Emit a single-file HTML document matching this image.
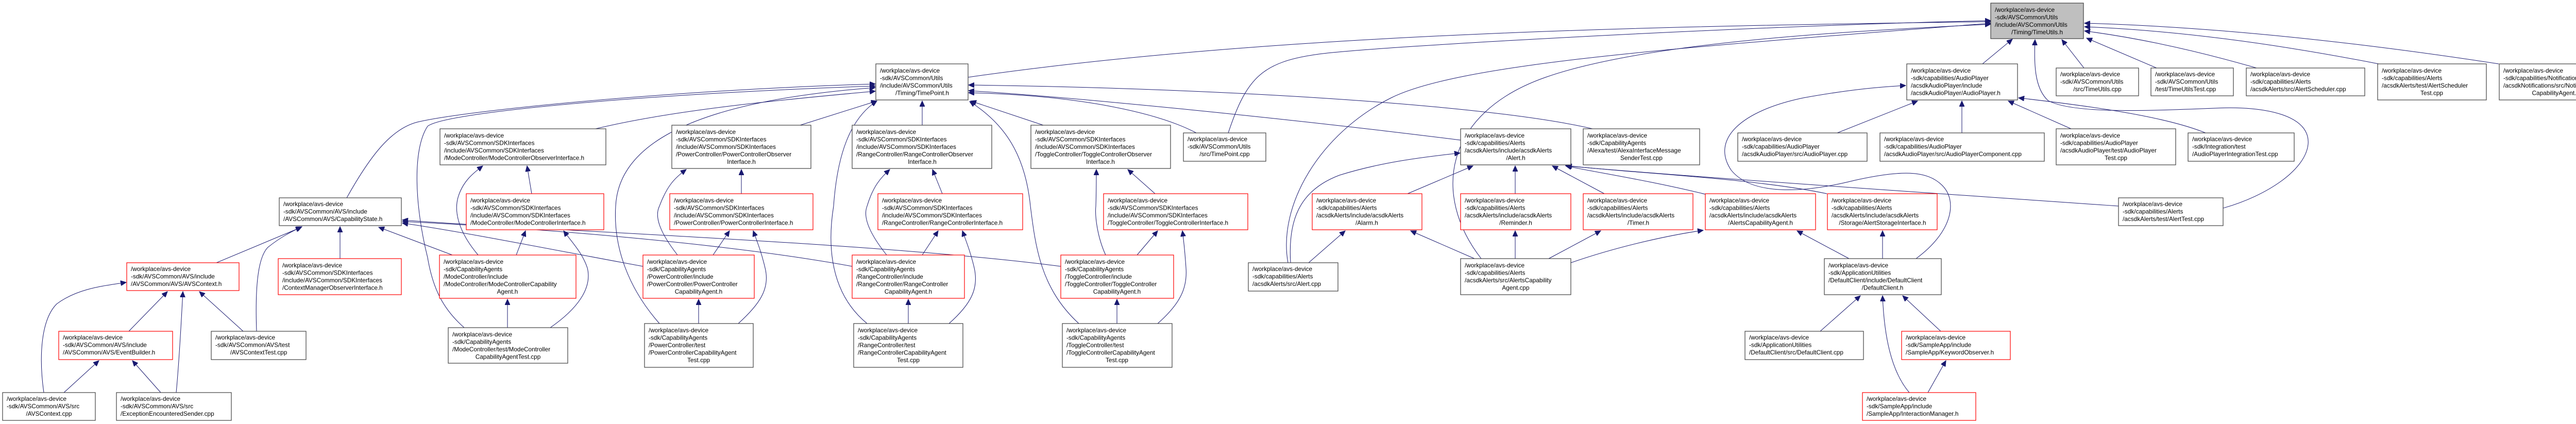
<!DOCTYPE html>
<html><head><meta charset="utf-8"><style>
html,body{margin:0;padding:0;background:#fff;}
svg{display:block;}
text{font-family:"Liberation Sans",sans-serif;font-size:11.8px;fill:#000;}
.b{fill:#fff;stroke:#404040;stroke-width:1.2;}
.r{fill:#fff;stroke:#ff0000;stroke-width:1.2;}
.g{fill:#bfbfbf;stroke:#404040;stroke-width:1.2;}
.e{fill:none;stroke:#191970;stroke-width:1;marker-end:url(#a);}
.m{text-anchor:middle;}
</style></head><body>
<svg width="5089" height="823" viewBox="0 0 5089 823" xmlns="http://www.w3.org/2000/svg">
<defs><marker id="a" markerUnits="userSpaceOnUse" markerWidth="12" markerHeight="10" refX="11" refY="5" orient="auto"><path d="M0,0 L11,5 L0,10 z" fill="#191970" stroke="#191970"/></marker></defs>

<!-- edges -->
<g>
<path class="e" d="M1879,150 C2500,60 3300,50 3864,42"/>
<path class="e" d="M3848,124 L3906,76"/>
<path class="e" d="M4045,132 L4002,77"/>
<path class="e" d="M4186,132 L4050,74"/>
<path class="e" d="M4380,132 Q4200,80 4046,60"/>
<path class="e" d="M4617,124 Q4300,62 4046,52"/>
<path class="e" d="M4850,124 Q4400,55 4046,45"/>
<path class="e" d="M2384,258 C2420,150 2450,120 2560,105 S3400,50 3864,40"/>
<path class="e" d="M2500,510 C2480,400 2560,260 2700,190 S3300,90 3864,45"/>
<path class="e" d="M2875,502 C2780,380 2800,220 3000,150 S3600,60 3864,47"/>
<path class="e" d="M4315,404 C4400,380 4475,330 4480,280 C4485,225 4400,205 4300,210 C4150,216 4020,220 3975,195 C3948,170 3948,120 3950,77"/>
<path class="e" d="M3091,250 C2900,205 2400,172 1880,165"/>
<path class="e" d="M2835,272 C2500,230 2100,190 1880,176"/>
<path class="e" d="M4112,400 C3800,378 3300,345 3040,322"/>
<path class="e" d="M2322,258 C2250,220 2100,185 1880,180"/>
<path class="e" d="M2094,628 C2020,560 2010,480 2000,400 C1990,300 1950,240 1882,197"/>
<path class="e" d="M1683,628 C1600,560 1610,450 1618,400 C1625,300 1650,230 1702,196"/>
<path class="e" d="M1280,628 C1220,560 1190,480 1195,400 C1200,300 1300,200 1699,170"/>
<path class="e" d="M1553,243 L1702,196"/>
<path class="e" d="M1790,243 L1790,196"/>
<path class="e" d="M2025,243 L1884,196"/>
<path class="e" d="M1156,250 C1300,215 1500,195 1699,177"/>
<path class="e" d="M673,384 C720,300 760,250 810,237 C900,215 1300,175 1699,163"/>
<path class="e" d="M901,636 C860,600 840,560 830,500 C805,400 800,290 830,245 C870,215 1300,180 1699,167"/>
<path class="e" d="M420,510 L585,441"/>
<path class="e" d="M498,643 C495,560 500,500 520,480 C545,460 565,450 586,440"/>
<path class="e" d="M660,502 L660,440"/>
<path class="e" d="M878,495 L735,441"/>
<path class="e" d="M1248,517 C1100,490 900,450 781,433"/>
<path class="e" d="M1654,517 C1400,470 1000,440 781,430"/>
<path class="e" d="M2059,517 C1700,470 1000,445 781,427"/>
<path class="e" d="M250,643 L325,566"/>
<path class="e" d="M472,643 L387,566"/>
<path class="e" d="M85,762 C75,690 80,620 110,590 C150,560 200,555 245,548"/>
<path class="e" d="M342,762 C348,700 352,620 355,566"/>
<path class="e" d="M124,762 L192,700"/>
<path class="e" d="M312,762 L257,700"/>
<path class="e" d="M1032,376 L1023,322"/>
<path class="e" d="M928,495 C890,450 880,410 890,380 C900,350 920,335 937,322"/>
<path class="e" d="M1002,495 L1020,448"/>
<path class="e" d="M1068,636 C1120,600 1150,560 1140,520 C1130,490 1110,470 1094,448"/>
<path class="e" d="M985,636 L985,581"/>
<path class="e" d="M1439,376 L1439,329"/>
<path class="e" d="M1315,495 C1280,450 1270,420 1280,400 C1295,360 1310,345 1332,329"/>
<path class="e" d="M1384,495 L1416,448"/>
<path class="e" d="M1433,628 C1475,590 1495,560 1485,520 C1478,490 1470,470 1462,448"/>
<path class="e" d="M1356,628 L1356,581"/>
<path class="e" d="M1829,376 L1810,329"/>
<path class="e" d="M1721,495 C1685,450 1675,420 1683,400 C1695,360 1710,345 1727,329"/>
<path class="e" d="M1790,495 L1821,448"/>
<path class="e" d="M1842,628 C1885,590 1900,560 1891,520 C1884,490 1876,470 1868,448"/>
<path class="e" d="M1763,628 L1763,581"/>
<path class="e" d="M2242,376 L2189,329"/>
<path class="e" d="M2146,495 C2130,460 2125,420 2127,400 C2128,370 2128,350 2128,329"/>
<path class="e" d="M2207,495 L2247,448"/>
<path class="e" d="M2247,628 C2290,590 2305,560 2302,520 C2300,490 2298,470 2295,448"/>
<path class="e" d="M2168,628 L2168,581"/>
<path class="e" d="M2732,376 L2859,322"/>
<path class="e" d="M2505,510 C2500,430 2520,370 2600,340 C2680,315 2760,305 2834,297"/>
<path class="e" d="M2941,376 L2941,322"/>
<path class="e" d="M2540,510 L2611,448"/>
<path class="e" d="M2862,502 L2738,448"/>
<path class="e" d="M2941,502 L2941,448"/>
<path class="e" d="M3114,376 L3013,322"/>
<path class="e" d="M3310,377 C3200,350 3100,335 3039,322"/>
<path class="e" d="M3546,376 C3400,345 3150,335 3039,321"/>
<path class="e" d="M3006,502 L3107,448"/>
<path class="e" d="M3049,510 C3150,475 3250,455 3306,447"/>
<path class="e" d="M3589,502 L3488,448"/>
<path class="e" d="M3654,502 L3654,448"/>
<path class="e" d="M3719,502 C3790,450 3800,390 3770,360 C3740,330 3690,330 3600,350 C3500,375 3400,380 3360,330 C3320,270 3380,215 3500,190 C3600,172 3660,168 3699,166"/>
<path class="e" d="M3566,258 L3722,196"/>
<path class="e" d="M3808,258 L3808,196"/>
<path class="e" d="M4020,250 L3898,196"/>
<path class="e" d="M4281,258 C4200,225 4050,205 3918,190"/>
<path class="e" d="M3533,643 L3611,574"/>
<path class="e" d="M3767,643 L3693,574"/>
<path class="e" d="M3706,762 C3670,720 3657,650 3654,574"/>
<path class="e" d="M3742,762 L3777,700"/>
</g>

<!-- nodes -->
<rect class="g" x="3864" y="6" width="180" height="69"/>
<text><tspan x="3872" y="23">/workplace/avs-device</tspan><tspan x="3872" y="37.5">-sdk/AVSCommon/Utils</tspan><tspan x="3872" y="52">/include/AVSCommon/Utils</tspan><tspan class="m" x="3954" y="66.5">/Timing/TimeUtils.h</tspan></text>

<rect class="b" x="1700" y="124" width="179" height="70"/>
<text><tspan x="1708" y="141">/workplace/avs-device</tspan><tspan x="1708" y="155.5">-sdk/AVSCommon/Utils</tspan><tspan x="1708" y="170">/include/AVSCommon/Utils</tspan><tspan class="m" x="1790" y="184.5">/Timing/TimePoint.h</tspan></text>

<rect class="b" x="542" y="384" width="237" height="54"/>
<text><tspan x="550" y="400">/workplace/avs-device</tspan><tspan x="550" y="414.5">-sdk/AVSCommon/AVS/include</tspan><tspan x="550" y="429">/AVSCommon/AVS/CapabilityState.h</tspan></text>

<rect class="r" x="246" y="510" width="218" height="54"/>
<text><tspan x="254" y="526">/workplace/avs-device</tspan><tspan x="254" y="540.5">-sdk/AVSCommon/AVS/include</tspan><tspan x="254" y="555">/AVSCommon/AVS/AVSContext.h</tspan></text>

<rect class="r" x="540" y="502" width="239" height="70"/>
<text><tspan x="548" y="519">/workplace/avs-device</tspan><tspan x="548" y="533.5">-sdk/AVSCommon/SDKInterfaces</tspan><tspan x="548" y="548">/include/AVSCommon/SDKInterfaces</tspan><tspan x="548" y="562.5">/ContextManagerObserverInterface.h</tspan></text>

<rect class="r" x="114" y="643" width="221" height="55"/>
<text><tspan x="122" y="659">/workplace/avs-device</tspan><tspan x="122" y="673.5">-sdk/AVSCommon/AVS/include</tspan><tspan x="122" y="688">/AVSCommon/AVS/EventBuilder.h</tspan></text>

<rect class="b" x="410" y="643" width="184" height="55"/>
<text><tspan x="418" y="659">/workplace/avs-device</tspan><tspan x="418" y="673.5">-sdk/AVSCommon/AVS/test</tspan><tspan class="m" x="502" y="688">/AVSContextTest.cpp</tspan></text>

<rect class="b" x="5" y="762" width="180" height="54"/>
<text><tspan x="13" y="778">/workplace/avs-device</tspan><tspan x="13" y="792.5">-sdk/AVSCommon/AVS/src</tspan><tspan class="m" x="95" y="807">/AVSContext.cpp</tspan></text>

<rect class="b" x="226" y="762" width="223" height="54"/>
<text><tspan x="234" y="778">/workplace/avs-device</tspan><tspan x="234" y="792.5">-sdk/AVSCommon/AVS/src</tspan><tspan x="234" y="807">/ExceptionEncounteredSender.cpp</tspan></text>

<rect class="b" x="854" y="250" width="322" height="70"/>
<text><tspan x="862" y="267">/workplace/avs-device</tspan><tspan x="862" y="281.5">-sdk/AVSCommon/SDKInterfaces</tspan><tspan x="862" y="296">/include/AVSCommon/SDKInterfaces</tspan><tspan x="862" y="310.5">/ModeController/ModeControllerObserverInterface.h</tspan></text>

<rect class="r" x="905" y="376" width="267" height="70"/>
<text><tspan x="913" y="393">/workplace/avs-device</tspan><tspan x="913" y="407.5">-sdk/AVSCommon/SDKInterfaces</tspan><tspan x="913" y="422">/include/AVSCommon/SDKInterfaces</tspan><tspan x="913" y="436.5">/ModeController/ModeControllerInterface.h</tspan></text>

<rect class="r" x="853" y="495" width="265" height="84"/>
<text><tspan x="861" y="512">/workplace/avs-device</tspan><tspan x="861" y="526.5">-sdk/CapabilityAgents</tspan><tspan x="861" y="541">/ModeController/include</tspan><tspan x="861" y="555.5">/ModeController/ModeControllerCapability</tspan><tspan class="m" x="985" y="570">Agent.h</tspan></text>

<rect class="b" x="870" y="636" width="232" height="69"/>
<text><tspan x="878" y="653">/workplace/avs-device</tspan><tspan x="878" y="667.5">-sdk/CapabilityAgents</tspan><tspan x="878" y="682">/ModeController/test/ModeController</tspan><tspan class="m" x="986" y="696.5">CapabilityAgentTest.cpp</tspan></text>

<rect class="b" x="1304" y="243" width="270" height="84"/>
<text><tspan x="1312" y="260">/workplace/avs-device</tspan><tspan x="1312" y="274.5">-sdk/AVSCommon/SDKInterfaces</tspan><tspan x="1312" y="289">/include/AVSCommon/SDKInterfaces</tspan><tspan x="1312" y="303.5">/PowerController/PowerControllerObserver</tspan><tspan class="m" x="1439" y="318">Interface.h</tspan></text>

<rect class="b" x="1654" y="243" width="271" height="84"/>
<text><tspan x="1662" y="260">/workplace/avs-device</tspan><tspan x="1662" y="274.5">-sdk/AVSCommon/SDKInterfaces</tspan><tspan x="1662" y="289">/include/AVSCommon/SDKInterfaces</tspan><tspan x="1662" y="303.5">/RangeController/RangeControllerObserver</tspan><tspan class="m" x="1790" y="318">Interface.h</tspan></text>

<rect class="r" x="1300" y="376" width="278" height="70"/>
<text><tspan x="1308" y="393">/workplace/avs-device</tspan><tspan x="1308" y="407.5">-sdk/AVSCommon/SDKInterfaces</tspan><tspan x="1308" y="422">/include/AVSCommon/SDKInterfaces</tspan><tspan x="1308" y="436.5">/PowerController/PowerControllerInterface.h</tspan></text>

<rect class="r" x="1704" y="376" width="281" height="70"/>
<text><tspan x="1712" y="393">/workplace/avs-device</tspan><tspan x="1712" y="407.5">-sdk/AVSCommon/SDKInterfaces</tspan><tspan x="1712" y="422">/include/AVSCommon/SDKInterfaces</tspan><tspan x="1712" y="436.5">/RangeController/RangeControllerInterface.h</tspan></text>

<rect class="r" x="1248" y="495" width="216" height="84"/>
<text><tspan x="1256" y="512">/workplace/avs-device</tspan><tspan x="1256" y="526.5">-sdk/CapabilityAgents</tspan><tspan x="1256" y="541">/PowerController/include</tspan><tspan x="1256" y="555.5">/PowerController/PowerController</tspan><tspan class="m" x="1356" y="570">CapabilityAgent.h</tspan></text>

<rect class="r" x="1654" y="495" width="218" height="84"/>
<text><tspan x="1662" y="512">/workplace/avs-device</tspan><tspan x="1662" y="526.5">-sdk/CapabilityAgents</tspan><tspan x="1662" y="541">/RangeController/include</tspan><tspan x="1662" y="555.5">/RangeController/RangeController</tspan><tspan class="m" x="1763" y="570">CapabilityAgent.h</tspan></text>

<rect class="b" x="1251" y="628" width="211" height="85"/>
<text><tspan x="1259" y="645">/workplace/avs-device</tspan><tspan x="1259" y="659.5">-sdk/CapabilityAgents</tspan><tspan x="1259" y="674">/PowerController/test</tspan><tspan x="1259" y="688.5">/PowerControllerCapabilityAgent</tspan><tspan class="m" x="1356" y="703">Test.cpp</tspan></text>

<rect class="b" x="1657" y="628" width="212" height="85"/>
<text><tspan x="1665" y="645">/workplace/avs-device</tspan><tspan x="1665" y="659.5">-sdk/CapabilityAgents</tspan><tspan x="1665" y="674">/RangeController/test</tspan><tspan x="1665" y="688.5">/RangeControllerCapabilityAgent</tspan><tspan class="m" x="1763" y="703">Test.cpp</tspan></text>

<rect class="b" x="2001" y="243" width="271" height="84"/>
<text><tspan x="2009" y="260">/workplace/avs-device</tspan><tspan x="2009" y="274.5">-sdk/AVSCommon/SDKInterfaces</tspan><tspan x="2009" y="289">/include/AVSCommon/SDKInterfaces</tspan><tspan x="2009" y="303.5">/ToggleController/ToggleControllerObserver</tspan><tspan class="m" x="2136" y="318">Interface.h</tspan></text>

<rect class="b" x="2297" y="258" width="160" height="55"/>
<text><tspan x="2305" y="274">/workplace/avs-device</tspan><tspan x="2305" y="288.5">-sdk/AVSCommon/Utils</tspan><tspan class="m" x="2377" y="303">/src/TimePoint.cpp</tspan></text>

<rect class="r" x="2142" y="376" width="280" height="70"/>
<text><tspan x="2150" y="393">/workplace/avs-device</tspan><tspan x="2150" y="407.5">-sdk/AVSCommon/SDKInterfaces</tspan><tspan x="2150" y="422">/include/AVSCommon/SDKInterfaces</tspan><tspan x="2150" y="436.5">/ToggleController/ToggleControllerInterface.h</tspan></text>

<rect class="r" x="2059" y="495" width="219" height="84"/>
<text><tspan x="2067" y="512">/workplace/avs-device</tspan><tspan x="2067" y="526.5">-sdk/CapabilityAgents</tspan><tspan x="2067" y="541">/ToggleController/include</tspan><tspan x="2067" y="555.5">/ToggleController/ToggleController</tspan><tspan class="m" x="2168" y="570">CapabilityAgent.h</tspan></text>

<rect class="b" x="2062" y="628" width="213" height="85"/>
<text><tspan x="2070" y="645">/workplace/avs-device</tspan><tspan x="2070" y="659.5">-sdk/CapabilityAgents</tspan><tspan x="2070" y="674">/ToggleController/test</tspan><tspan x="2070" y="688.5">/ToggleControllerCapabilityAgent</tspan><tspan class="m" x="2168" y="703">Test.cpp</tspan></text>

<rect class="b" x="2423" y="510" width="174" height="55"/>
<text><tspan x="2431" y="526">/workplace/avs-device</tspan><tspan x="2431" y="540.5">-sdk/capabilities/Alerts</tspan><tspan x="2431" y="555">/acsdkAlerts/src/Alert.cpp</tspan></text>

<rect class="r" x="2547" y="376" width="213" height="70"/>
<text><tspan x="2555" y="393">/workplace/avs-device</tspan><tspan x="2555" y="407.5">-sdk/capabilities/Alerts</tspan><tspan x="2555" y="422">/acsdkAlerts/include/acsdkAlerts</tspan><tspan class="m" x="2653" y="436.5">/Alarm.h</tspan></text>

<rect class="b" x="2835" y="250" width="214" height="70"/>
<text><tspan x="2843" y="267">/workplace/avs-device</tspan><tspan x="2843" y="281.5">-sdk/capabilities/Alerts</tspan><tspan x="2843" y="296">/acsdkAlerts/include/acsdkAlerts</tspan><tspan class="m" x="2942" y="310.5">/Alert.h</tspan></text>

<rect class="r" x="2835" y="376" width="214" height="70"/>
<text><tspan x="2843" y="393">/workplace/avs-device</tspan><tspan x="2843" y="407.5">-sdk/capabilities/Alerts</tspan><tspan x="2843" y="422">/acsdkAlerts/include/acsdkAlerts</tspan><tspan class="m" x="2942" y="436.5">/Reminder.h</tspan></text>

<rect class="b" x="2835" y="502" width="214" height="70"/>
<text><tspan x="2843" y="519">/workplace/avs-device</tspan><tspan x="2843" y="533.5">-sdk/capabilities/Alerts</tspan><tspan x="2843" y="548">/acsdkAlerts/src/AlertsCapability</tspan><tspan class="m" x="2942" y="562.5">Agent.cpp</tspan></text>

<rect class="b" x="3073" y="250" width="226" height="70"/>
<text><tspan x="3081" y="267">/workplace/avs-device</tspan><tspan x="3081" y="281.5">-sdk/CapabilityAgents</tspan><tspan x="3081" y="296">/Alexa/test/AlexaInterfaceMessage</tspan><tspan class="m" x="3186" y="310.5">SenderTest.cpp</tspan></text>

<rect class="r" x="3073" y="376" width="213" height="70"/>
<text><tspan x="3081" y="393">/workplace/avs-device</tspan><tspan x="3081" y="407.5">-sdk/capabilities/Alerts</tspan><tspan x="3081" y="422">/acsdkAlerts/include/acsdkAlerts</tspan><tspan class="m" x="3180" y="436.5">/Timer.h</tspan></text>

<rect class="r" x="3310" y="376" width="214" height="70"/>
<text><tspan x="3318" y="393">/workplace/avs-device</tspan><tspan x="3318" y="407.5">-sdk/capabilities/Alerts</tspan><tspan x="3318" y="422">/acsdkAlerts/include/acsdkAlerts</tspan><tspan class="m" x="3417" y="436.5">/AlertsCapabilityAgent.h</tspan></text>

<rect class="r" x="3547" y="376" width="213" height="70"/>
<text><tspan x="3555" y="393">/workplace/avs-device</tspan><tspan x="3555" y="407.5">-sdk/capabilities/Alerts</tspan><tspan x="3555" y="422">/acsdkAlerts/include/acsdkAlerts</tspan><tspan class="m" x="3654" y="436.5">/Storage/AlertStorageInterface.h</tspan></text>

<rect class="b" x="3701" y="124" width="215" height="70"/>
<text><tspan x="3709" y="141">/workplace/avs-device</tspan><tspan x="3709" y="155.5">-sdk/capabilities/AudioPlayer</tspan><tspan x="3709" y="170">/acsdkAudioPlayer/include</tspan><tspan x="3709" y="184.5">/acsdkAudioPlayer/AudioPlayer.h</tspan></text>

<rect class="b" x="3373" y="258" width="251" height="55"/>
<text><tspan x="3381" y="274">/workplace/avs-device</tspan><tspan x="3381" y="288.5">-sdk/capabilities/AudioPlayer</tspan><tspan x="3381" y="303">/acsdkAudioPlayer/src/AudioPlayer.cpp</tspan></text>

<rect class="b" x="3649" y="258" width="319" height="55"/>
<text><tspan x="3657" y="274">/workplace/avs-device</tspan><tspan x="3657" y="288.5">-sdk/capabilities/AudioPlayer</tspan><tspan x="3657" y="303">/acsdkAudioPlayer/src/AudioPlayerComponent.cpp</tspan></text>

<rect class="b" x="3991" y="250" width="232" height="70"/>
<text><tspan x="3999" y="267">/workplace/avs-device</tspan><tspan x="3999" y="281.5">-sdk/capabilities/AudioPlayer</tspan><tspan x="3999" y="296">/acsdkAudioPlayer/test/AudioPlayer</tspan><tspan class="m" x="4107" y="310.5">Test.cpp</tspan></text>

<rect class="b" x="4247" y="258" width="206" height="55"/>
<text><tspan x="4255" y="274">/workplace/avs-device</tspan><tspan x="4255" y="288.5">-sdk/Integration/test</tspan><tspan x="4255" y="303">/AudioPlayerIntegrationTest.cpp</tspan></text>

<rect class="b" x="3541" y="502" width="227" height="70"/>
<text><tspan x="3549" y="519">/workplace/avs-device</tspan><tspan x="3549" y="533.5">-sdk/ApplicationUtilities</tspan><tspan x="3549" y="548">/DefaultClient/include/DefaultClient</tspan><tspan class="m" x="3654" y="562.5">/DefaultClient.h</tspan></text>

<rect class="b" x="3387" y="643" width="230" height="55"/>
<text><tspan x="3395" y="659">/workplace/avs-device</tspan><tspan x="3395" y="673.5">-sdk/ApplicationUtilities</tspan><tspan x="3395" y="688">/DefaultClient/src/DefaultClient.cpp</tspan></text>

<rect class="r" x="3691" y="643" width="211" height="55"/>
<text><tspan x="3699" y="659">/workplace/avs-device</tspan><tspan x="3699" y="673.5">-sdk/SampleApp/include</tspan><tspan x="3699" y="688">/SampleApp/KeywordObserver.h</tspan></text>

<rect class="r" x="3615" y="762" width="220" height="54"/>
<text><tspan x="3623" y="778">/workplace/avs-device</tspan><tspan x="3623" y="792.5">-sdk/SampleApp/include</tspan><tspan x="3623" y="807">/SampleApp/InteractionManager.h</tspan></text>

<rect class="b" x="3991" y="132" width="160" height="54"/>
<text><tspan x="3999" y="148">/workplace/avs-device</tspan><tspan x="3999" y="162.5">-sdk/AVSCommon/Utils</tspan><tspan class="m" x="4071" y="177">/src/TimeUtils.cpp</tspan></text>

<rect class="b" x="4175" y="132" width="160" height="54"/>
<text><tspan x="4183" y="148">/workplace/avs-device</tspan><tspan x="4183" y="162.5">-sdk/AVSCommon/Utils</tspan><tspan x="4183" y="177">/test/TimeUtilsTest.cpp</tspan></text>

<rect class="b" x="4360" y="132" width="230" height="54"/>
<text><tspan x="4368" y="148">/workplace/avs-device</tspan><tspan x="4368" y="162.5">-sdk/capabilities/Alerts</tspan><tspan x="4368" y="177">/acsdkAlerts/src/AlertScheduler.cpp</tspan></text>

<rect class="b" x="4615" y="124" width="211" height="70"/>
<text><tspan x="4623" y="141">/workplace/avs-device</tspan><tspan x="4623" y="155.5">-sdk/capabilities/Alerts</tspan><tspan x="4623" y="170">/acsdkAlerts/test/AlertScheduler</tspan><tspan class="m" x="4720" y="184.5">Test.cpp</tspan></text>

<rect class="b" x="4851" y="124" width="232" height="70"/>
<text><tspan x="4859" y="141">/workplace/avs-device</tspan><tspan x="4859" y="155.5">-sdk/capabilities/Notifications</tspan><tspan x="4859" y="170">/acsdkNotifications/src/Notifications</tspan><tspan class="m" x="4967" y="184.5">CapabilityAgent.cpp</tspan></text>

<rect class="b" x="4112" y="384" width="203" height="54"/>
<text><tspan x="4120" y="400">/workplace/avs-device</tspan><tspan x="4120" y="414.5">-sdk/capabilities/Alerts</tspan><tspan x="4120" y="429">/acsdkAlerts/test/AlertTest.cpp</tspan></text>
</svg>
</body></html>
